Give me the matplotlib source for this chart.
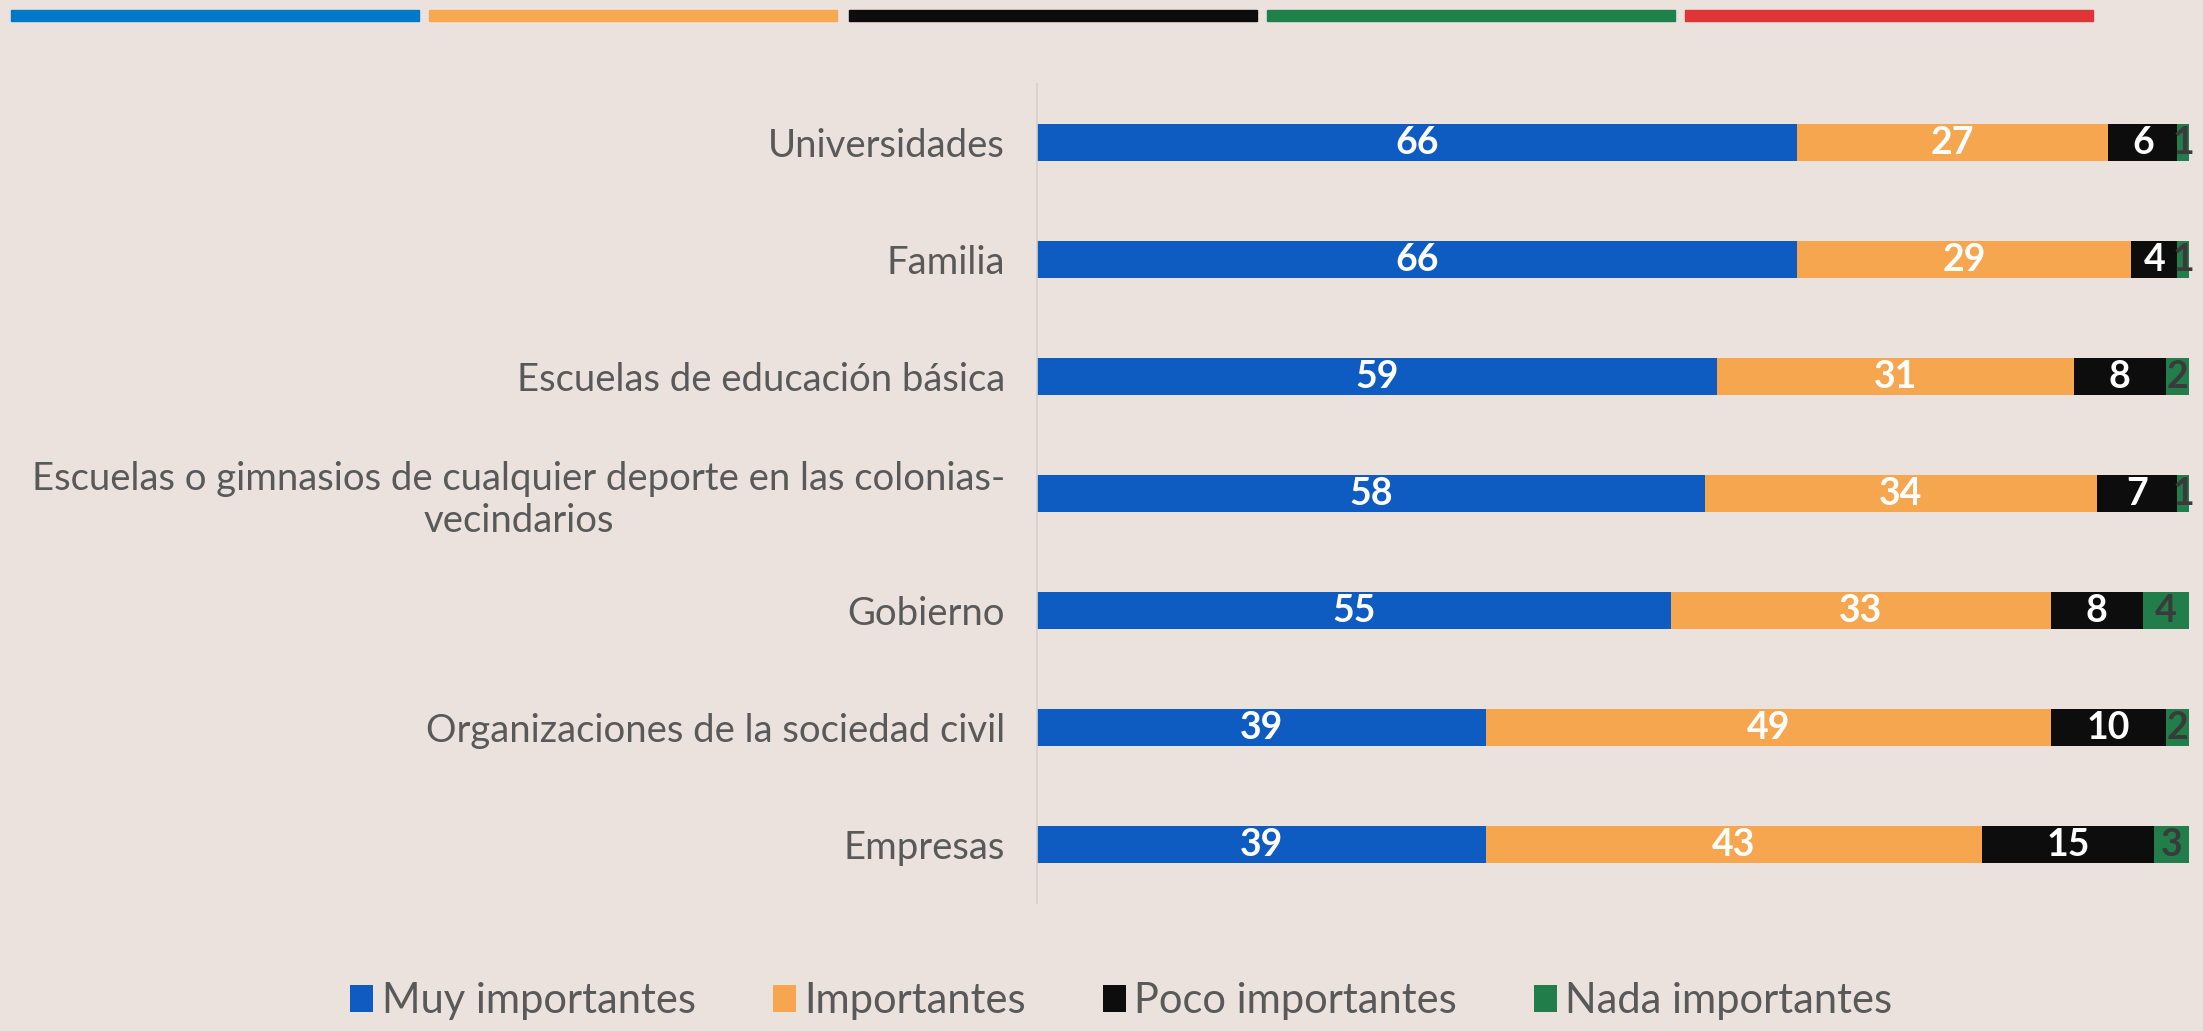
import matplotlib
matplotlib.use("Agg")
import matplotlib.pyplot as plt
from matplotlib.patches import Rectangle
import numpy as np

categories = ["Universidades", "Familia", "Escuelas de educación básica",
              "Escuelas o gimnasios de cualquier deporte en las colonias-\nvecindarios",
              "Gobierno", "Organizaciones de la sociedad civil", "Empresas"]
series_names = ["Muy importantes", "Importantes", "Poco importantes", "Nada importantes"]
muy = [66, 66, 59, 58, 55, 39, 39]
imp = [27, 29, 31, 34, 33, 49, 43]
poco = [6, 4, 8, 7, 8, 10, 15]
nada = [1, 1, 2, 1, 4, 2, 3]
series = [muy, imp, poco, nada]
bar_colors = ["#0E5BC2", "#F7A650", "#0D0D0D", "#217E4B"]
label_colors = ["white", "white", "white", "#3A3A3A"]
strip_colors = ["#0078C8", "#F9A852", "#0D0D0D", "#20804C", "#DF3538"]

bg = "#EBE1DD"
plt.rcParams['font.family'] = ['Lato', 'DejaVu Sans']

fig = plt.figure(figsize=(22.03, 10.31), dpi=100, facecolor=bg)
ax = fig.add_axes([0.4707, 0.1241, 0.5229, 0.7944], facecolor=bg)

y = np.arange(len(categories))
left = np.zeros(len(categories))
for vals, col, lc, name in zip(series, bar_colors, label_colors, series_names):
    vals = np.array(vals)
    bars = ax.barh(y, vals, left=left, height=0.31, color=col, label=name,
                   edgecolor="none")
    for b, v in zip(bars, vals):
        ax.text(b.get_x() + b.get_width() / 2, b.get_y() + b.get_height() / 2,
                str(v), ha="center", va="center", color=lc, fontsize=27,
                fontweight="bold")
    left += vals

ax.set_xlim(0, 100)
ax.set_ylim(len(categories) - 0.5, -0.5)
ax.set_yticks(y)
ax.set_yticklabels(categories, fontsize=27.5, color="#595959", ha="right",
                   multialignment="center", linespacing=1.2)
ax.tick_params(axis="y", length=0, pad=23)
ax.set_xticks([])
for s in ["top", "right", "bottom"]:
    ax.spines[s].set_visible(False)
ax.spines["left"].set_color("#D6D0CD")
ax.spines["left"].set_linewidth(1.2)

# decorative top strips
xs = [11, 429, 849, 1267, 1685]
for x0, c in zip(xs, strip_colors):
    fig.patches.append(Rectangle((x0 / 2203, 1 - 21 / 1031), 408 / 2203, 11 / 1031,
                                 transform=fig.transFigure, color=c))

leg = fig.legend(loc="lower center", bbox_to_anchor=(0.509, -0.026), ncol=4,
                 frameon=False, fontsize=30, handlelength=0.55, handleheight=0.6,
                 handletextpad=0.2, columnspacing=1.85,
                 labelcolor="#595959")

fig.savefig("out.png", dpi=100, facecolor=bg)
